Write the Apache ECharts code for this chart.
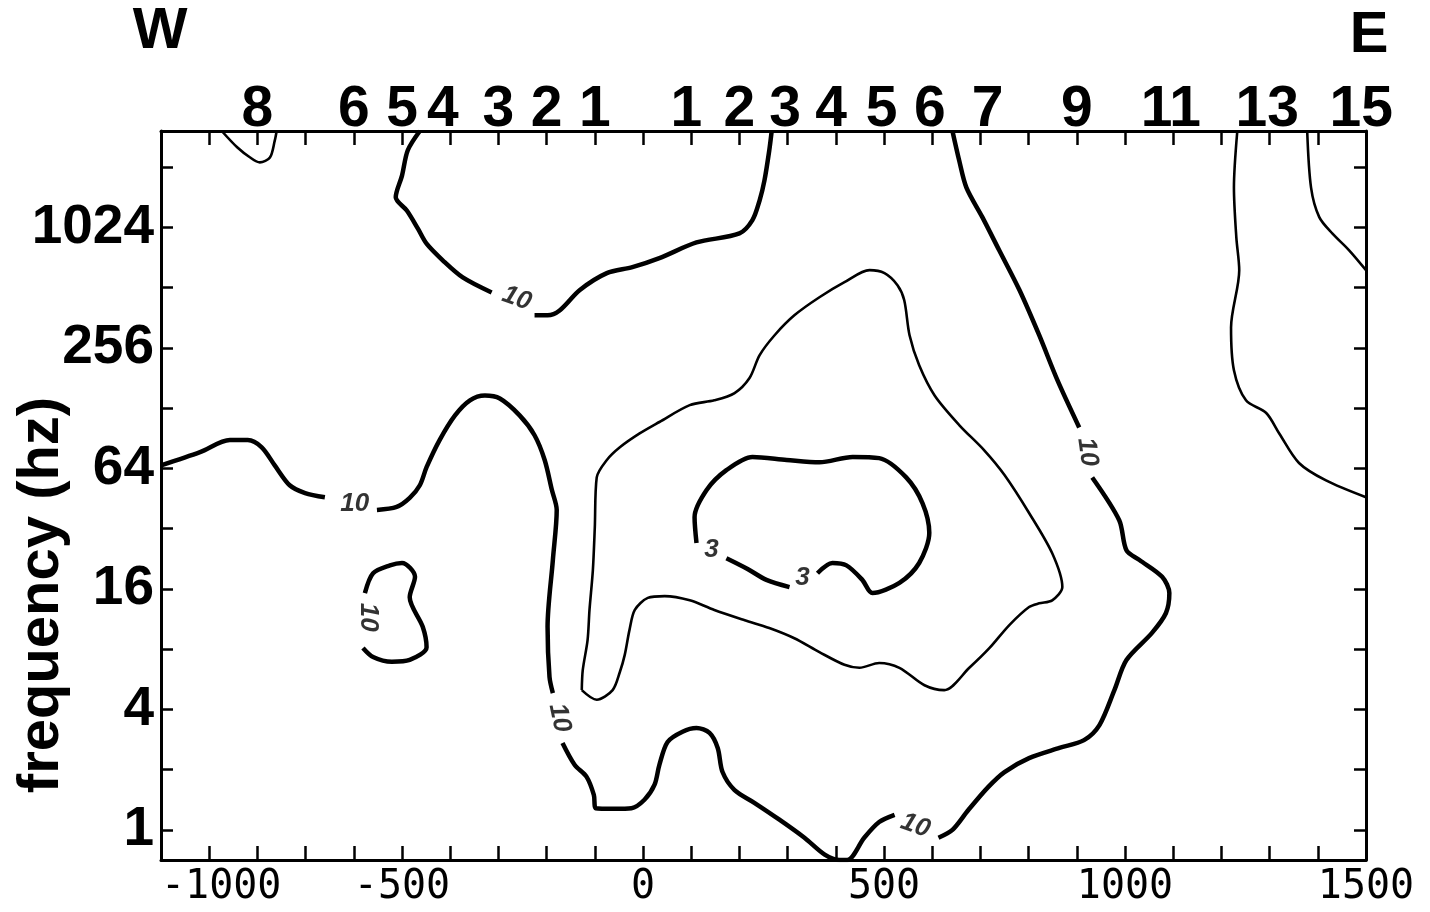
<!DOCTYPE html>
<html><head><meta charset="utf-8">
<script src="https://cdn.jsdelivr.net/npm/echarts@6/dist/echarts.min.js"></script>
<style>html,body{margin:0;padding:0;background:#fff}#c{width:1430px;height:912px}</style>
</head><body><div id="c"></div>
<script>
// x: distance (m), y: log2(frequency / 1 Hz)
const xLabelValues = [-1000, -500, 0, 500, 1000, 1500];
const yLabelExponents = [0, 2, 4, 6, 8, 10];           // 1, 4, 16, 64, 256, 1024 Hz
const stationNames = ['8','6','5','4','3','2','1','1','2','3','4','5','6','7','9','11','13','15'];
const stationDistances = [-800,-600,-500,-415,-300,-200,-100,90,200,295,390,495,595,715,900,1095,1295,1490];

// contour level 10 (thick)
const c10Upper1 = [[-463,11.6],[-488,11.28],[-500,10.86],[-513,10.5],[-490,10.28],[-467,9.98],[-449,9.73],[-415,9.45],[-374,9.17],[-314,8.92]];
const c10Upper2 = [[-225,8.54],[-198,8.54],[-173,8.62],[-131,8.96],[-75,9.24],[-22,9.34],[34,9.49],[111,9.75],[200,9.9],[227,10.12],[242,10.45],[252,10.78],[262,11.28],[267,11.6]];
const c10West1 = [[-1000,6.05],[-919,6.27],[-857,6.47],[-820,6.47],[-791,6.35],[-764,6.05],[-733,5.72],[-701,5.59],[-660,5.52]];
const c10West2 = [[-552,5.31],[-511,5.36],[-484,5.51],[-463,5.72],[-449,6.02],[-422,6.47],[-390,6.88],[-359,7.13],[-328,7.21],[-297,7.16],[-256,6.88],[-225,6.55],[-204,6.14],[-189,5.64],[-179,5.31],[-187,4.48],[-198,3.37],[-194,2.54],[-187,2.27]];
const c10South = [[-167,1.44],[-142,1.08],[-117,0.88],[-102,0.58],[-98,0.36],[-59,0.35],[-24,0.36],[3,0.5],[24,0.75],[34,1.08],[51,1.46],[82,1.63],[111,1.69],[138,1.61],[155,1.36],[165,0.96],[190,0.66],[231,0.45],[283,0.17],[335,-0.13],[377,-0.41],[408,-0.5],[424,-0.5],[459,-0.13],[490,0.13],[522,0.25]];
const c10East1 = [[613,-0.13],[642,0.0],[675,0.33],[716,0.71],[750,0.96],[801,1.19],[864,1.36],[915,1.49],[947,1.74],[978,2.32],[1003,2.82],[1056,3.27],[1085,3.6],[1092,3.93],[1077,4.2],[1030,4.48],[1003,4.64],[988,5.14],[932,5.85]];
const c10East2 = [[905,6.68],[860,7.46],[822,8.21],[781,8.96],[739,9.62],[704,10.17],[671,10.66],[656,11.11],[642,11.6]];
const c10Island = [[-581,3.02],[-560,2.87],[-521,2.79],[-484,2.82],[-449,3.03],[-457,3.37],[-484,3.86],[-473,4.2],[-500,4.43],[-525,4.39],[-560,4.26],[-577,3.93]];
// contour level 3 (thick)
const c3a = [[173,4.51],[215,4.34],[256,4.15],[304,4.03]];
const c3b = [[362,4.26],[393,4.43],[422,4.39],[455,4.15],[476,3.93],[532,4.1],[573,4.43],[594,4.93],[580,5.42],[546,5.85],[490,6.17],[435,6.19],[366,6.1],[298,6.14],[227,6.19],[173,5.97],[132,5.64],[107,5.19],[111,4.76]];
// unlabelled thin contours
const cInner = [[-127,2.32],[-125,2.65],[-115,3.15],[-111,3.65],[-104,4.31],[-100,5.02],[-96,5.85],[-75,6.14],[-48,6.35],[-7,6.58],[34,6.77],[97,7.05],[148,7.13],[190,7.25],[221,7.5],[242,7.88],[273,8.21],[314,8.54],[366,8.84],[418,9.09],[470,9.29],[501,9.24],[528,9.04],[542,8.79],[553,8.21],[573,7.71],[605,7.21],[656,6.72],[708,6.3],[750,5.89],[801,5.26],[849,4.59],[870,4.03],[849,3.81],[822,3.76],[801,3.7],[760,3.4],[719,3.02],[677,2.69],[625,2.32],[584,2.4],[532,2.69],[490,2.77],[449,2.69],[418,2.74],[366,2.95],[314,3.18],[262,3.35],[211,3.48],[148,3.65],[97,3.81],[45,3.88],[10,3.85],[-17,3.65],[-28,3.32],[-38,2.9],[-48,2.62],[-63,2.32],[-96,2.16],[-127,2.32]];
const cNE1 = [[1233,11.6],[1226,10.66],[1231,9.83],[1237,9.29],[1220,8.34],[1226,7.63],[1251,7.13],[1293,6.92],[1320,6.58],[1361,6.09],[1417,5.8],[1500,5.52]];
const cNE2 = [[1378,11.6],[1386,10.66],[1403,10.17],[1430,9.9],[1465,9.62],[1500,9.29]];
const cNW = [[-874,11.6],[-842,11.33],[-815,11.16],[-795,11.08],[-774,11.16],[-764,11.44],[-760,11.6]];

// contour labels
const labelText = ['10','10','10','10','10','10','3','3'];
const labelPos = [[-262,8.82],[-598,5.42],[-571,3.53],[-173,1.86],[565,0.07],[922,6.27],[142,4.64],[331,4.18]];
const labelRotate = [-20, 0, -90, -78, -20, -82, 0, 0];

const thickLines = [c10Upper1,c10Upper2,c10West1,c10West2,c10South,c10East1,c10East2,c10Island,c3a,c3b];
const thinLines = [cInner,cNE1,cNE2,cNW];

const ticks100 = []; for (let v = -1000; v <= 1500; v += 100) ticks100.push(v);
const ticksOct = []; for (let v = 0; v <= 11; v++) ticksOct.push(v);

const series = [];
thickLines.forEach(d => series.push({type:'line', data:d, showSymbol:false, smooth:0.3, lineStyle:{color:'#000', width:4.5}, silent:true}));
thinLines.forEach(d => series.push({type:'line', data:d, showSymbol:false, smooth:0.3, lineStyle:{color:'#000', width:2.6}, silent:true}));
series.push({
  type:'scatter', symbolSize:1, itemStyle:{color:'transparent'}, silent:true,
  data: labelPos.map((p,i)=>({value:p, name:labelText[i], label:{rotate:labelRotate[i], color:'#000'}})),
  label:{show:true, position:'inside', formatter:p=>p.name, color:'#000', fontSize:26, fontStyle:'italic', fontWeight:'bold', fontFamily:'Liberation Sans'}
});

const axisLineStyle = {onZero:false, lineStyle:{color:'#000', width:3}};
const chart = echarts.init(document.getElementById('c'), null, {renderer:'canvas'});
chart.setOption({
  animation:false,
  backgroundColor:'#fff',
  grid:{left:161, right:64, top:131, bottom:52, containLabel:false},
  xAxis:[
    {type:'value', position:'bottom', min:-1000, max:1500, interval:100,
     axisLine:axisLineStyle, splitLine:{show:false},
     axisTick:{inside:true, length:14, customValues:ticks100, lineStyle:{color:'#000', width:2.5}},
     axisLabel:{customValues:xLabelValues, formatter:v=>String(v), color:'#000', fontFamily:'DejaVu Sans Mono', fontSize:40, margin:8, alignMinLabel:'left'}},
    {type:'value', position:'top', min:-1000, max:1500, interval:100,
     axisLine:axisLineStyle, splitLine:{show:false},
     axisTick:{inside:true, length:14, customValues:ticks100, lineStyle:{color:'#000', width:2.5}},
     axisLabel:{customValues:stationDistances, formatter:v=>stationNames[stationDistances.indexOf(v)], color:'#000', fontFamily:'Liberation Sans', fontWeight:'bold', fontSize:57, margin:-8}}
  ],
  yAxis:[
    {type:'value', position:'left', min:-0.5, max:11.6,
     axisLine:axisLineStyle, splitLine:{show:false},
     axisTick:{inside:true, length:12, customValues:ticksOct, lineStyle:{color:'#000', width:2.5}},
     axisLabel:{customValues:yLabelExponents, formatter:v=>String(Math.pow(2,v)), color:'#000', fontFamily:'Liberation Sans', fontWeight:'bold', fontSize:55, margin:7}},
    {type:'value', position:'right', min:-0.5, max:11.6,
     axisLine:axisLineStyle, splitLine:{show:false},
     axisTick:{inside:true, length:12, customValues:ticksOct, lineStyle:{color:'#000', width:2.5}},
     axisLabel:{show:false}}
  ],
  graphic:[
    {type:'text', x:160, y:32, style:{text:'W', fill:'#000', font:'bold 58px "Liberation Sans"', align:'center', verticalAlign:'middle'}},
    {type:'text', x:1369, y:36, style:{text:'E', fill:'#000', font:'bold 58px "Liberation Sans"', align:'center', verticalAlign:'middle'}},
    {type:'text', x:42, y:595, rotation:Math.PI/2, style:{text:'frequency (hz)', fill:'#000', font:'bold 58px "Liberation Sans"', align:'center', verticalAlign:'middle'}}
  ],
  series: series
});
</script></body></html>
